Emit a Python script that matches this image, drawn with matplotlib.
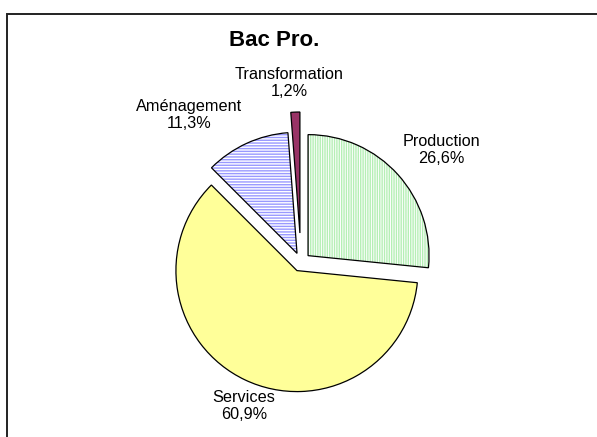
import matplotlib
matplotlib.use("Agg")
import matplotlib.pyplot as plt
import matplotlib.patches as mpatches

plt.rcParams['font.family'] = ['Liberation Sans', 'DejaVu Sans']

# Data
categories = ["Production", "Services", "Aménagement", "Transformation"]
values = [26.6, 60.9, 11.3, 1.2]
title = "Bac Pro."

# Styles
face_colors = ["white", "#FFFF99", "white", "#993366"]
hatch_colors = ["#B5EFB5", None, "#9999FF", None]
hatches = ["|" * 7, None, "-" * 6, None]
explode = [9.5, 9.5, 9.5, 29]

W, H = 597, 437
fig = plt.figure(figsize=(W / 100, H / 100), dpi=100)
ax = fig.add_axes([0, 0, 1, 1])

cx, cy, r = 301, H - 262, 121
wedges, _ = ax.pie(values, explode=explode, startangle=90, counterclock=False,
                   radius=r, center=(cx, cy), colors=face_colors,
                   wedgeprops=dict(linewidth=0.9, edgecolor="black"))

for w, hc, ht in zip(wedges, hatch_colors, hatches):
    if ht:
        w.set_edgecolor(hc)
        w.set_linewidth(0)
        w.set_hatch(ht)
        outline = mpatches.Wedge(w.center, w.r, w.theta1, w.theta2, fill=False,
                                 edgecolor="black", linewidth=0.9)
        ax.add_patch(outline)

ax.set_xlim(0, W)
ax.set_ylim(0, H)
ax.set_aspect('equal')
ax.axis('off')

# Labels
label_pos = [(441, 150), (244, 406), (189, 115), (289, 83)]
for cat, v, (lx, ly) in zip(categories, values, label_pos):
    pct = f"{v:.1f}".replace('.', ',') + "%"
    ax.text(lx, H - ly, f"{cat}\n{pct}", ha="center", va="center",
            fontsize=11.7, linespacing=1.15, color="black")

ax.text(274, H - 41, title, ha="center", va="center", fontsize=16,
        fontweight="bold", color="black")

# Chart frame (extends beyond the image on right and bottom)
ax.plot([7, 7, W + 10], [-10, H - 14, H - 14], color="#222222", lw=1.4,
        clip_on=False, solid_joinstyle="miter")

fig.savefig("out.png", dpi=100)
